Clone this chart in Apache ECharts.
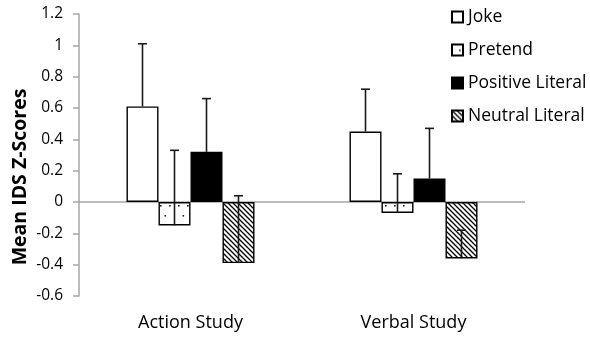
<!DOCTYPE html>
<html><head><meta charset="utf-8">
<script src="https://cdn.jsdelivr.net/npm/echarts@6/dist/echarts.min.js"></script>
<style>html,body{margin:0;padding:0;background:#fff}#c{width:590px;height:338px}</style>
</head><body><div id="c"></div>
<script>
const categories = ['Action Study', 'Verbal Study'];
const seriesNames = ['Joke', 'Pretend', 'Positive Literal', 'Neutral Literal'];
const jokeValues = [0.61, 0.45];
const pretendValues = [-0.15, -0.07];
const positiveValues = [0.32, 0.15];
const neutralValues = [-0.39, -0.36];
const jokeErrTop = [1.01, 0.72];
const pretendErrTop = [0.33, 0.18];
const positiveErrTop = [0.66, 0.47];
const neutralErrTop = [0.04, -0.18];
const yTicks = [-0.6, -0.4, -0.2, 0, 0.2, 0.4, 0.6, 0.8, 1, 1.2];

const FONT = 'Open Sans';

function dotPattern() {
  const c = document.createElement('canvas');
  c.width = 18; c.height = 20;
  const g = c.getContext('2d');
  g.fillStyle = '#fff'; g.fillRect(0, 0, 18, 20);
  g.fillStyle = '#222';
  g.fillRect(7, 5, 1.6, 1.6);
  g.fillRect(16, 5, 1.6, 1.6);
  g.fillRect(2.5, 15, 1.6, 1.6);
  return c;
}
function hatchPattern() {
  const s = 5;
  const c = document.createElement('canvas');
  c.width = s; c.height = s;
  const g = c.getContext('2d');
  g.fillStyle = '#fff'; g.fillRect(0, 0, s, s);
  g.strokeStyle = '#000'; g.lineWidth = 1.3;
  g.beginPath();
  g.moveTo(-1, -1); g.lineTo(s + 1, s + 1);
  g.moveTo(-1, s - 1); g.lineTo(1, s + 1);
  g.moveTo(s - 1, -1); g.lineTo(s + 1, 1);
  g.stroke();
  return c;
}

const values = [jokeValues, pretendValues, positiveValues, neutralValues];
const errTops = [jokeErrTop, pretendErrTop, positiveErrTop, neutralErrTop];
const fills = [
  '#ffffff',
  { image: dotPattern(), repeat: 'repeat' },
  '#000000',
  { image: hatchPattern(), repeat: 'repeat' }
];
const CAT_GAP = 0.426;

const barSeries = seriesNames.map((name, i) => ({
  name: name,
  type: 'bar',
  data: values[i],
  barGap: '0%',
  barCategoryGap: (CAT_GAP * 100) + '%',
  itemStyle: { color: fills[i], borderColor: '#000', borderWidth: 1.4 },
  emphasis: { disabled: true },
  z: 2
}));
barSeries[0].markLine = {
  silent: true, symbol: 'none', label: { show: false },
  lineStyle: { color: '#a6a6a6', width: 1.5, type: 'solid' },
  data: [{ yAxis: 0 }], z: 1
};

const errData = [];
seriesNames.forEach((n, si) => {
  categories.forEach((cat, ci) => {
    errData.push([ci, values[si][ci], errTops[si][ci], si]);
  });
});

const option = {
  animation: false,
  grid: { left: 79, right: 65, top: 14, bottom: 42 },
  legend: {
    orient: 'vertical', left: 446, top: 3,
    itemWidth: 11, itemHeight: 11, itemGap: 15,
    icon: 'rect',
    textStyle: { fontFamily: FONT, fontSize: 17.5, color: '#000' },
    data: seriesNames
  },
  xAxis: {
    type: 'category', data: categories,
    axisLine: { show: false }, axisTick: { show: false },
    axisLabel: { fontFamily: FONT, fontSize: 18, color: '#000', margin: 18 }
  },
  yAxis: {
    type: 'value', min: -0.6, max: 1.2, interval: 0.2,
    axisLine: { show: true, lineStyle: { color: '#a6a6a6', width: 1.5 } },
    axisTick: { show: true, length: 6, lineStyle: { color: '#a6a6a6', width: 1.5 } },
    splitLine: { show: false },
    axisLabel: {
      fontFamily: FONT, fontSize: 15.5, color: '#000', margin: 16,
      formatter: v => { const r = Math.round(v * 10) / 10; return String(r); }
    }
  },
  graphic: [{
    type: 'text', x: 20, y: 177, rotation: Math.PI / 2,
    style: { text: 'Mean IDS Z-Scores', fontFamily: FONT, fontWeight: 'bold', fontSize: 19.5,
      fill: '#000', align: 'center', verticalAlign: 'middle' }
  }],
  series: barSeries.concat([{
    type: 'custom',
    silent: true,
    z: 5,
    data: errData,
    encode: { x: 0, y: 1 },
    renderItem: function (params, api) {
      const ci = api.value(0), lo = api.value(1), hi = api.value(2), si = api.value(3);
      const band = api.size([1, 0])[0];
      const w = band * (1 - CAT_GAP) / 4;
      const p0 = api.coord([ci, lo]);
      const p1 = api.coord([ci, hi]);
      const x = p0[0] + (si - 1.5) * w;
      const style = { stroke: '#1a1a1a', lineWidth: 1.6, fill: null };
      return { type: 'group', children: [
        { type: 'line', shape: { x1: x, y1: p0[1], x2: x, y2: p1[1] }, style: style },
        { type: 'line', shape: { x1: x - 4.5, y1: p1[1], x2: x + 4.5, y2: p1[1] }, style: style }
      ]};
    }
  }])
};
const chart = echarts.init(document.getElementById('c'));
chart.setOption(option);
</script></body></html>
